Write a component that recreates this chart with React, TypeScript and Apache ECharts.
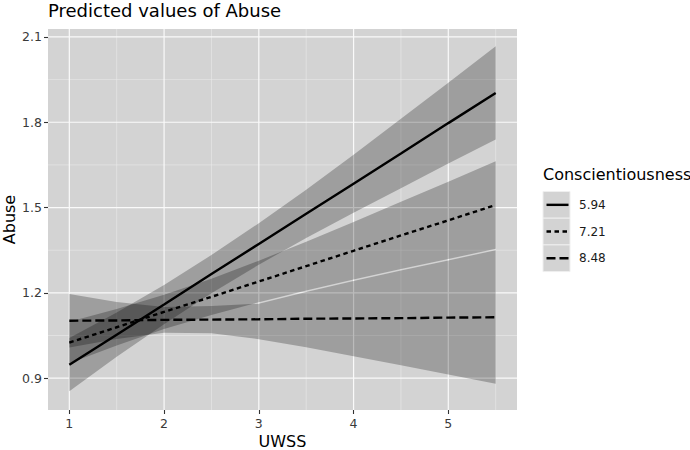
import React, { useEffect, useRef } from "react";
import * as echarts from "echarts";

// ---- data ----
const xs = [1, 1.5, 2, 2.5, 3, 3.5, 4, 4.5, 5, 5.5];
const fit594 = [0.947, 1.053, 1.159, 1.266, 1.372, 1.478, 1.584, 1.69, 1.797, 1.903];
const lo594 = [0.854, 0.975, 1.09, 1.199, 1.299, 1.393, 1.482, 1.568, 1.655, 1.739];
const hi594 = [1.041, 1.131, 1.228, 1.333, 1.445, 1.563, 1.686, 1.812, 1.939, 2.067];
const fit721 = [1.025, 1.079, 1.133, 1.186, 1.24, 1.294, 1.348, 1.402, 1.455, 1.509];
const lo721 = [0.952, 1.015, 1.073, 1.122, 1.167, 1.208, 1.247, 1.284, 1.319, 1.355];
const hi721 = [1.098, 1.143, 1.193, 1.25, 1.313, 1.38, 1.449, 1.52, 1.591, 1.663];
const fit848 = [1.102, 1.103, 1.105, 1.106, 1.107, 1.109, 1.11, 1.111, 1.113, 1.114];
const lo848 = [1.008, 1.038, 1.06, 1.058, 1.037, 1.009, 0.977, 0.945, 0.913, 0.88];
const hi848 = [1.196, 1.168, 1.15, 1.154, 1.162, 1.203, 1.242, 1.279, 1.314, 1.35];

const groupLabels = ["5.94", "7.21", "8.48"];
const xTicks = [1, 2, 3, 4, 5];
const xMinor = [1.5, 2.5, 3.5, 4.5, 5.5];
const yTicks = [0.9, 1.2, 1.5, 1.8, 2.1];
const yMinor = [1.05, 1.35, 1.65, 1.95];

const X_MIN = 0.775;
const X_MAX = 5.725;
const Y_MIN = 0.788;
const Y_MAX = 2.128;

const FONT = "DejaVu Sans";
const PANEL = "#d3d3d3";
const BAND = "rgba(0,0,0,0.25)";
const dashes: (string | number[])[] = ["solid", [4.5, 3.5], [9, 4]];

export default function App() {
  const ref = useRef<HTMLDivElement>(null);
  useEffect(() => {
    if (!ref.current) return;
    const chart = echarts.init(ref.current, null, { renderer: "svg" });

    const vline = (style: any) => (params: any, api: any) => {
      const p = api.coord([api.value(0), Y_MIN]);
      const cs = params.coordSys;
      return { type: "line", shape: { x1: p[0], y1: cs.y, x2: p[0], y2: cs.y + cs.height }, style };
    };
    const hline = (style: any) => (params: any, api: any) => {
      const p = api.coord([X_MIN, api.value(1)]);
      const cs = params.coordSys;
      return { type: "line", shape: { x1: cs.x, y1: p[1], x2: cs.x + cs.width, y2: p[1] }, style };
    };
    const majorStyle = { stroke: "#fafafa", lineWidth: 1.2 };
    const minorStyle = { stroke: "#ebebeb", lineWidth: 0.6 };

    const band = (lo: number[], hi: number[]) => (params: any, api: any) => {
      if (params.dataIndex !== 0) return null;
      const top = xs.map((x, i) => api.coord([x, hi[i]]));
      const bot = xs.map((x, i) => api.coord([x, lo[i]])).reverse();
      return { type: "polygon", shape: { points: top.concat(bot) }, style: { fill: BAND } };
    };

    const gridSeries = [
      { data: xMinor.map((v) => [v, Y_MIN]), renderItem: vline(minorStyle) },
      { data: yMinor.map((v) => [X_MIN, v]), renderItem: hline(minorStyle) },
      { data: xTicks.map((v) => [v, Y_MIN]), renderItem: vline(majorStyle) },
      { data: yTicks.map((v) => [X_MIN, v]), renderItem: hline(majorStyle) },
    ].map((s) => ({ type: "custom", silent: true, z: 1, encode: { x: 0, y: 1 }, ...s }));

    const bands = [
      [lo594, hi594],
      [lo721, hi721],
      [lo848, hi848],
    ].map(([lo, hi]) => ({
      type: "custom",
      silent: true,
      z: 2,
      encode: { x: 0, y: [1, 2] },
      data: xs.map((x, i) => [x, lo[i], hi[i]]),
      renderItem: band(lo, hi),
    }));

    const fits = [fit594, fit721, fit848];
    const lines = fits.map((f, k) => ({
      type: "line",
      name: groupLabels[k],
      silent: true,
      z: 3,
      symbol: "none",
      showSymbol: false,
      data: xs.map((x, i) => [x, f[i]]),
      lineStyle: { color: "#000", width: 2.4, type: dashes[k] },
      emphasis: { disabled: true },
    }));

    // legend (drawn with graphics)
    const keyX = 543;
    const keyY0 = 191.5;
    const keyH = 26.7;
    const legendGraphics: any[] = [
      {
        type: "text",
        left: keyX,
        top: 166,
        style: { text: "Conscientiousness", font: `16px '${FONT}'`, fill: "#000" },
      },
    ];
    groupLabels.forEach((lab, k) => {
      const y = keyY0 + k * keyH;
      legendGraphics.push({
        type: "rect",
        shape: { x: keyX, y, width: 27, height: keyH },
        style: { fill: PANEL, stroke: "#efefef", lineWidth: 1 },
      });
      legendGraphics.push({
        type: "line",
        shape: { x1: keyX + 3.5, y1: y + keyH / 2, x2: keyX + 25.5, y2: y + keyH / 2 },
        style: {
          stroke: "#000",
          lineWidth: 2.4,
          lineDash: Array.isArray(dashes[k]) ? (dashes[k] as number[]) : null,
        },
      });
      legendGraphics.push({
        type: "text",
        x: 579,
        y: y + keyH / 2,
        style: {
          text: lab,
          font: `12px '${FONT}'`,
          fill: "#1a1a1a",
          verticalAlign: "middle",
        },
      });
    });

    const option: any = {
      animation: false,
      backgroundColor: "#fff",
      grid: {
        left: 48,
        top: 29,
        width: 469,
        height: 381,
        show: true,
        backgroundColor: PANEL,
        borderWidth: 0,
        containLabel: false,
        outerBoundsMode: "none",
      },
      xAxis: {
        type: "value",
        min: X_MIN,
        max: X_MAX,
        axisLine: { show: false },
        splitLine: { show: false },
        axisTick: { show: true, customValues: xTicks, length: 4, lineStyle: { color: "#333", width: 1.1 } },
        axisLabel: {
          customValues: xTicks,
          margin: 7,
          fontFamily: FONT,
          fontSize: 12.5,
          color: "#3a3a3a",
          formatter: (v: number) => String(v),
        },
      },
      yAxis: {
        type: "value",
        min: Y_MIN,
        max: Y_MAX,
        axisLine: { show: false },
        splitLine: { show: false },
        axisTick: { show: true, customValues: yTicks, length: 4, lineStyle: { color: "#333", width: 1.1 } },
        axisLabel: {
          customValues: yTicks,
          margin: 6,
          fontFamily: FONT,
          fontSize: 12.5,
          color: "#3a3a3a",
          formatter: (v: number) => v.toFixed(1),
        },
      },
      series: [...gridSeries, ...bands, ...lines],
      graphic: [
        {
          type: "text",
          x: 48,
          y: 10,
          style: {
            text: "Predicted values of Abuse",
            font: `18px '${FONT}'`,
            fill: "#000",
            verticalAlign: "middle",
          },
        },
        {
          type: "text",
          x: 282.5,
          y: 441.5,
          style: { text: "UWSS", font: `16px '${FONT}'`, fill: "#000", align: "center", verticalAlign: "middle" },
        },
        {
          type: "text",
          x: 9,
          y: 219.5,
          rotation: Math.PI / 2,
          style: { text: "Abuse", font: `16px '${FONT}'`, fill: "#000", align: "center", verticalAlign: "middle" },
        },
        ...legendGraphics,
      ],
    };
    chart.setOption(option);
    return () => chart.dispose();
  }, []);

  return <div ref={ref} style={{ position: "fixed", left: 0, top: 0, width: 690, height: 450 }} />;
}
